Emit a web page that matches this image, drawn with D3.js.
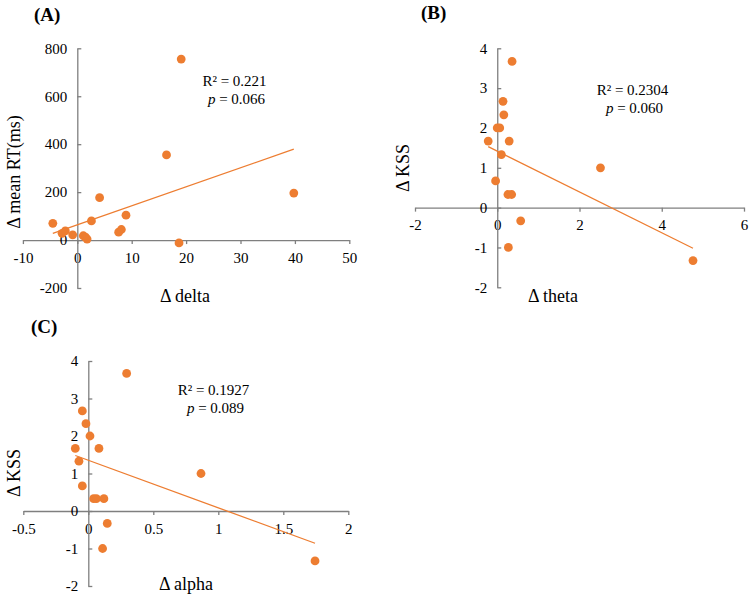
<!DOCTYPE html>
<html>
<head>
<meta charset="utf-8">
<script src="https://cdn.jsdelivr.net/npm/d3@7"></script>
<style>
  html, body { margin: 0; padding: 0; background: #fff; }
  svg { display: block; font-family: "Liberation Serif", "Times New Roman", serif; }
</style>
</head>
<body>
<svg id="chart" width="750" height="615"></svg>
<script>
// ---------- Data ----------
// Panel A: Δ delta vs Δ mean RT(ms)
const deltaX = [-4.5, -2.8, -2.2, -0.85, 1.1, 1.5, 1.8, 2.6, 4.1, 7.6, 8.1, 8.95, 16.4, 18.7, 19.1, 39.8];
const rtY    = [70, 28, 38, 22, 18, 12, 4, 80, 177, 33, 44, 104, 355, -12, 755, 196];
const trendAX = [-4.5, 39.8];
const trendAY = [28, 379];
const ticksAX = [-10, 0, 10, 20, 30, 40, 50];
const ticksAY = [-200, 0, 200, 400, 600, 800];

// Panel B: Δ theta vs Δ KSS
const thetaX = [0.36, 0.14, 0.16, 0.0, 0.06, -0.22, 0.29, 0.1, -0.04, 0.26, 0.35, 0.57, 0.27, 2.51, 4.76];
const kssB   = [3.67, 2.67, 2.33, 2.0, 2.0, 1.67, 1.67, 1.33, 0.67, 0.33, 0.33, -0.33, -1.0, 1.0, -1.33];
const trendBX = [-0.22, 4.76];
const trendBY = [1.53, -1.02];
const ticksBX = [-2, 0, 2, 4, 6];
const ticksBY = [-2, -1, 0, 1, 2, 3, 4];

// Panel C: Δ alpha vs Δ KSS
const alphaX = [0.295, -0.046, -0.018, 0.013, -0.1, 0.082, -0.072, -0.046, 0.041, 0.062, 0.12, 0.146, 0.11, 0.867, 1.744];
const kssC   = [3.67, 2.67, 2.33, 2.0, 1.67, 1.67, 1.33, 0.67, 0.33, 0.33, 0.33, -0.33, -1.0, 1.0, -1.33];
const trendCX = [-0.1, 1.744];
const trendCY = [1.48, -0.86];
const ticksCX = [-0.5, 0, 0.5, 1, 1.5, 2];
const ticksCY = [-2, -1, 0, 1, 2, 3, 4];

const panelLabels = ["(A)", "(B)", "(C)"];
const xTitles = ["\u0394 delta", "\u0394 theta", "\u0394 alpha"];
const yTitles = ["\u0394 mean RT(ms)", "\u0394 KSS", "\u0394 KSS"];
const r2Labels = ["R\u00B2 = 0.221", "R\u00B2 = 0.2304", "R\u00B2 = 0.1927"];
const pLabels = ["0.066", "0.060", "0.089"];

// ---------- Styles ----------
const ORANGE = "#ED7D31";
const AXIS = "#7f7f7f";

const svg = d3.select("#chart");

function drawPanel(p) {
  const x = d3.scaleLinear().domain(d3.extent(p.xTicks)).range(p.xRange);
  const y = d3.scaleLinear().domain(d3.extent(p.yTicks)).range(p.yRange);
  const g = svg.append("g");

  // x axis at y=0
  const xa = g.append("g")
    .attr("transform", `translate(0,${y(0)})`)
    .call(d3.axisBottom(x).tickValues(p.xTicks).tickSize(4).tickSizeOuter(0).tickPadding(8)
      .tickFormat(d => String(d)));
  // y axis at x=0, ticks pointing right
  const ya = g.append("g")
    .attr("transform", `translate(${x(0)},0)`)
    .call(d3.axisLeft(y).tickValues(p.yTicks).tickSize(-4).tickSizeOuter(0).tickPadding(10)
      .tickFormat(d => String(d)));

  [xa, ya].forEach(a => {
    a.select(".domain").attr("stroke", AXIS).attr("stroke-width", 1.3);
    a.selectAll(".tick line").attr("stroke", AXIS).attr("stroke-width", 1.3);
    a.selectAll(".tick text").attr("fill", "#000").style("font-size", "15px")
      .style("font-family", '"Liberation Serif", serif');
  });

  // trend line
  g.append("line")
    .attr("x1", x(p.tx[0])).attr("y1", y(p.ty[0]))
    .attr("x2", x(p.tx[1])).attr("y2", y(p.ty[1]))
    .attr("stroke", ORANGE).attr("stroke-width", 1.3);

  // points
  g.selectAll("circle.pt").data(p.xs.map((v, i) => [v, p.ys[i]]))
    .enter().append("circle")
    .attr("class", "pt")
    .attr("cx", d => x(d[0])).attr("cy", d => y(d[1]))
    .attr("r", 4.4).attr("fill", ORANGE);

  // panel label
  g.append("text").attr("x", p.label[0]).attr("y", p.label[1])
    .style("font-size", "19px").style("font-weight", "bold").text(p.labelText);

  // axis titles
  g.append("text").attr("x", p.xTitle[0]).attr("y", p.xTitle[1])
    .attr("text-anchor", "middle").style("font-size", "18px").text(p.xTitleText);
  g.append("text")
    .attr("transform", `translate(${p.yTitle[0]},${p.yTitle[1]}) rotate(-90)`)
    .attr("text-anchor", "middle").style("font-size", "18px").text(p.yTitleText);

  // annotations
  g.append("text").attr("x", p.ann[0]).attr("y", p.ann[1])
    .attr("text-anchor", "middle").style("font-size", "15px").text(p.r2);
  const pt = g.append("text").attr("x", p.ann[0] + 2).attr("y", p.ann[1] + 18)
    .attr("text-anchor", "middle").style("font-size", "15px");
  pt.append("tspan").style("font-style", "italic").text("p");
  pt.append("tspan").text(" = " + p.pv);
}

drawPanel({
  xs: deltaX, ys: rtY, tx: trendAX, ty: trendAY, xTicks: ticksAX, yTicks: ticksAY,
  xRange: [22.9, 349.3], yRange: [288, 48.3],
  label: [34, 21], labelText: panelLabels[0],
  xTitle: [185, 302], xTitleText: xTitles[0],
  yTitle: [20, 172], yTitleText: yTitles[0],
  ann: [234.5, 86], r2: r2Labels[0], pv: pLabels[0]
});
drawPanel({
  xs: thetaX, ys: kssB, tx: trendBX, ty: trendBY, xTicks: ticksBX, yTicks: ticksBY,
  xRange: [415, 744], yRange: [287.3, 48.3],
  label: [421, 19], labelText: panelLabels[1],
  xTitle: [553, 302], xTitleText: xTitles[1],
  yTitle: [409, 168], yTitleText: yTitles[1],
  ann: [632.5, 95], r2: r2Labels[1], pv: pLabels[1]
});
drawPanel({
  xs: alphaX, ys: kssC, tx: trendCX, ty: trendCY, xTicks: ticksCX, yTicks: ticksCY,
  xRange: [23.3, 348.3], yRange: [586, 361],
  label: [31, 333], labelText: panelLabels[2],
  xTitle: [186, 590], xTitleText: xTitles[2],
  yTitle: [20, 473], yTitleText: yTitles[2],
  ann: [213.5, 395], r2: r2Labels[2], pv: pLabels[2]
});
</script>
</body>
</html>
